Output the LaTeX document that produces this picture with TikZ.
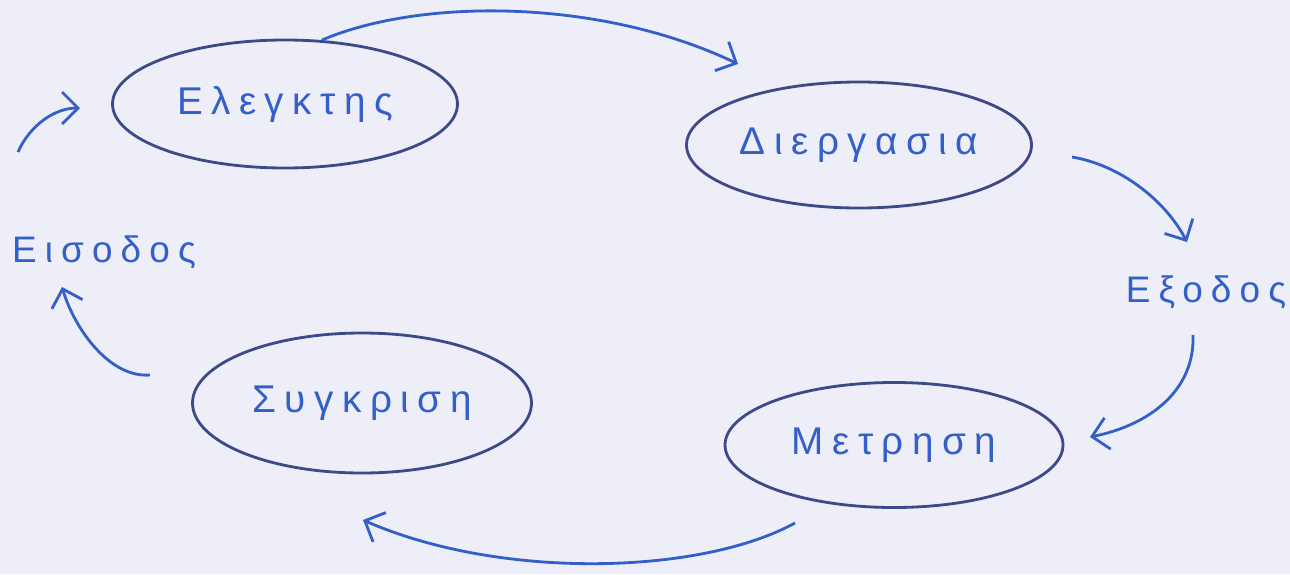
\documentclass[tikz,border=0pt]{standalone}
\usepackage{fontspec}
\setmainfont{Liberation Sans}
\newfontfamily\handfont[LetterSpace=22]{Liberation Sans}
\usetikzlibrary{shapes.geometric, arrows.meta}

\definecolor{paper}{RGB}{238,238,248}
\definecolor{inkblue}{RGB}{50,95,200}
\definecolor{inkgrey}{RGB}{60,75,135}

\begin{document}
\begin{tikzpicture} [
                x=0.1mm, y=-0.1mm,
                stagenode/.style={
                    ellipse,
                    draw=inkgrey,
                    line width=0.8pt,
                    inner sep=0pt,
                    text=inkblue,
                    font=\handfont\fontsize{11}{13}\selectfont
                },
                ionode/.style={
                    text=inkblue,
                    font=\handfont\fontsize{10.5}{13}\selectfont
                },
                flowarrow/.style={
                    draw=inkblue,
                    line width=0.8pt,
                    -{Straight Barb[length=1.6mm, width=3.2mm]}
                }
            ]

                \fill[paper] (0,0) rectangle (1290,574);
                \useasboundingbox (0,0) rectangle (1290,574);

                \node[stagenode, minimum width=34.5mm, minimum height=12.8mm]   (ctrl)  at (285,104)    {Ελεγκτης};
                \node[stagenode, minimum width=34.5mm, minimum height=12.6mm]   (proc)  at (859,145)    {Διεργασια};
                \node[stagenode, minimum width=33.9mm, minimum height=14.0mm]   (comp)  at (362,403)    {Συγκριση};
                \node[stagenode, minimum width=33.8mm, minimum height=12.5mm]   (meas)  at (894,445)    {Μετρηση};

                \node[ionode]   (input)     at (104,252)    {Εισοδος};
                \node[ionode]   (output)    at (1206,292)   {Εξοδος};

                % free ends of the arrows
                \coordinate (proctail)  at (1072,157);
                \coordinate (prochead)  at (738,64);
                \coordinate (outhead)   at (1187,242);
                \coordinate (outtail)   at (1193,335);
                \coordinate (meashead)  at (1090,437);
                \coordinate (meastail)  at (795,523);
                \coordinate (comphead)  at (363,520);
                \coordinate (comptail)  at (150,375);
                \coordinate (inhead)    at (62,287);
                \coordinate (intail)    at (18,152);
                \coordinate (ctrlhead)  at (80,108);

                \draw[flowarrow] (ctrl.60)   .. controls (420,-2)   and (600,-2)   .. (prochead);
                \draw[flowarrow] (proctail)  .. controls (1120,165) and (1165,200) .. (outhead);
                \draw[flowarrow] (outtail)   .. controls (1195,390) and (1150,425) .. (meashead);
                \draw[flowarrow] (meastail)  .. controls (700,575)  and (500,580)  .. (comphead);
                \draw[flowarrow] (comptail)  .. controls (110,378)  and (75,330)   .. (inhead);
                \draw[flowarrow] (intail)    .. controls (30,125)   and (55,108)   .. (ctrlhead);

            \end{tikzpicture}
\end{document}
